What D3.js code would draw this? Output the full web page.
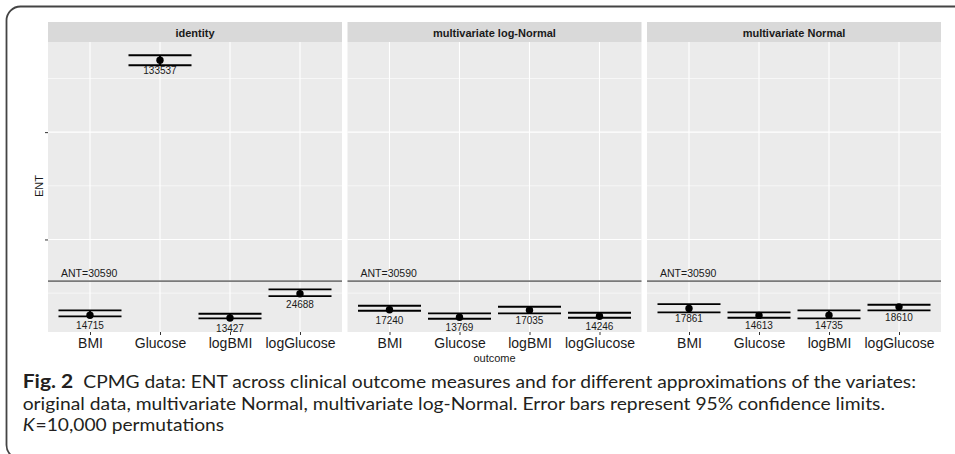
<!DOCTYPE html>
<html>
<head>
<meta charset="utf-8">
<script src="https://cdn.jsdelivr.net/npm/d3@7"></script>
<style>
  body { margin: 0; background: #fff; }
  svg { display: block; }
</style>
</head>
<body>
<div id="chart"></div>
<script>
// facet / category names
const panels = ["identity", "multivariate log-Normal", "multivariate Normal"];
const outcomes = ["BMI", "Glucose", "logBMI", "logGlucose"];

// ENT estimates per facet, same order as outcomes
const entIdentity = [14715, 133537, 13427, 24688];
const entLogNormal = [17240, 13769, 17035, 14246];
const entNormal = [17861, 14613, 14735, 18610];

// 95% limits
const lowIdentity = [14148, 131195, 13217, 23604];
const highIdentity = [16943, 135853, 15360, 26724];
const lowLogNormal = [16757, 13030, 15546, 13496];
const highLogNormal = [19086, 15546, 18620, 15825];
const lowNormal = [16012, 13496, 13217, 16943];
const highNormal = [19877, 16012, 16943, 19551];

const antValue = 30590;
const majorBreaks = [50000, 100000];
const minorBreaks = [25000, 75000, 125000];

const captionLines = [
  "CPMG data: ENT across clinical outcome measures and for different approximations of the variates:",
  "original data, multivariate Normal, multivariate log-Normal. Error bars represent 95% confidence limits.",
  "=10,000 permutations"
];

const ents = [entIdentity, entLogNormal, entNormal];
const lows = [lowIdentity, lowLogNormal, lowNormal];
const highs = [highIdentity, highLogNormal, highNormal];

const width = 955, height = 454;
const panelW = 294, panelGap = 5.5, left = 48;
const stripTop = 22, stripH = 20;
const panelTop = 42, panelBottom = 332;

const svg = d3.select("#chart").append("svg")
  .attr("width", width)
  .attr("height", height);

// outer frame of the figure box
svg.append("rect")
  .attr("x", 6.5).attr("y", 6.5)
  .attr("width", 1200).attr("height", 452.5)
  .attr("rx", 14)
  .attr("fill", "none")
  .attr("stroke", "#444")
  .attr("stroke-width", 1.8);

// shared y scale (fixed scales), 5% expansion like ggplot
const allLow = d3.min(lows.flat());
const allHigh = d3.max(highs.flat());
const pad = (allHigh - allLow) * 0.05;
const y = d3.scaleLinear()
  .domain([allLow - pad, allHigh + pad])
  .range([panelBottom, panelTop]);

const x = d3.scalePoint()
  .domain(outcomes)
  .range([0, panelW])
  .padding(0.6);
const barW = x.step() * 0.9;

panels.forEach((name, p) => {
  const g = svg.append("g")
    .attr("transform", `translate(${left + p * (panelW + panelGap)},0)`);

  // panel background
  g.append("rect")
    .attr("x", 0).attr("y", panelTop)
    .attr("width", panelW).attr("height", panelBottom - panelTop)
    .attr("fill", "#ebebeb");

  // grid
  g.selectAll(".minor").data(minorBreaks).join("line")
    .attr("x1", 0).attr("x2", panelW)
    .attr("y1", d => y(d)).attr("y2", d => y(d))
    .attr("stroke", "#fff").attr("stroke-width", 0.6);
  g.selectAll(".major").data(majorBreaks).join("line")
    .attr("x1", 0).attr("x2", panelW)
    .attr("y1", d => y(d)).attr("y2", d => y(d))
    .attr("stroke", "#fff").attr("stroke-width", 1.1);
  g.selectAll(".vgrid").data(outcomes).join("line")
    .attr("x1", d => x(d)).attr("x2", d => x(d))
    .attr("y1", panelTop).attr("y2", panelBottom)
    .attr("stroke", "#fff").attr("stroke-width", 1.1);

  // strip
  g.append("rect")
    .attr("x", 0).attr("y", stripTop)
    .attr("width", panelW).attr("height", stripH)
    .attr("fill", "#d9d9d9");
  g.append("text")
    .attr("x", panelW / 2).attr("y", stripTop + 15)
    .attr("text-anchor", "middle")
    .attr("font-family", "Liberation Sans, Arial, sans-serif")
    .attr("font-size", 11)
    .attr("font-weight", "bold")
    .attr("fill", "#1a1a1a")
    .text(name);

  // ANT reference line
  g.append("line")
    .attr("x1", 0).attr("x2", panelW)
    .attr("y1", y(antValue)).attr("y2", y(antValue))
    .attr("stroke", "#7a7a7a").attr("stroke-width", 1.6);
  g.append("text")
    .attr("x", 13).attr("y", y(antValue) - 4)
    .attr("font-family", "Liberation Sans, Arial, sans-serif")
    .attr("font-size", 10.5)
    .attr("fill", "#1a1a1a")
    .text("ANT=" + antValue);

  const rows = outcomes.map((o, i) => ({
    o, v: ents[p][i], lo: lows[p][i], hi: highs[p][i]
  }));

  // error bars
  const eb = g.selectAll(".eb").data(rows).join("g");
  eb.append("line")
    .attr("x1", d => x(d.o)).attr("x2", d => x(d.o))
    .attr("y1", d => y(d.lo)).attr("y2", d => y(d.hi))
    .attr("stroke", "#000").attr("stroke-width", 1.9);
  eb.append("line")
    .attr("x1", d => x(d.o) - barW / 2).attr("x2", d => x(d.o) + barW / 2)
    .attr("y1", d => y(d.lo)).attr("y2", d => y(d.lo))
    .attr("stroke", "#000").attr("stroke-width", 1.9);
  eb.append("line")
    .attr("x1", d => x(d.o) - barW / 2).attr("x2", d => x(d.o) + barW / 2)
    .attr("y1", d => y(d.hi)).attr("y2", d => y(d.hi))
    .attr("stroke", "#000").attr("stroke-width", 1.9);

  // points
  g.selectAll(".pt").data(rows).join("circle")
    .attr("cx", d => x(d.o)).attr("cy", d => y(d.v))
    .attr("r", 3.7).attr("fill", "#000");

  // value labels
  g.selectAll(".lab").data(rows).join("text")
    .attr("x", d => x(d.o)).attr("y", d => y(d.v) + 14)
    .attr("text-anchor", "middle")
    .attr("font-family", "Liberation Sans, Arial, sans-serif")
    .attr("font-size", 10)
    .attr("fill", "#1a1a1a")
    .text(d => d.v);

  // x axis
  const xa = g.append("g")
    .attr("transform", `translate(0,${panelBottom})`)
    .call(d3.axisBottom(x).tickSize(3).tickPadding(3));
  xa.select(".domain").remove();
  xa.selectAll("line").attr("stroke", "#333");
  xa.selectAll("text")
    .attr("font-family", "Liberation Sans, Arial, sans-serif")
    .attr("font-size", 14)
    .attr("fill", "#1a1a1a");

  if (p === 0) {
    const ya = g.append("g")
      .call(d3.axisLeft(y).tickValues(majorBreaks).tickFormat("").tickSize(3));
    ya.select(".domain").remove();
    ya.selectAll("line").attr("stroke", "#333");
  }
});

// axis titles
svg.append("text")
  .attr("transform", "translate(42.5,186) rotate(-90)")
  .attr("text-anchor", "middle")
  .attr("font-family", "Liberation Sans, Arial, sans-serif")
  .attr("font-size", 11)
  .attr("fill", "#1a1a1a")
  .text("ENT");

svg.append("text")
  .attr("x", left + (3 * panelW + 2 * panelGap) / 2).attr("y", 362)
  .attr("text-anchor", "middle")
  .attr("font-family", "Liberation Sans, Arial, sans-serif")
  .attr("font-size", 11)
  .attr("fill", "#1a1a1a")
  .text("outcome");

// caption
const capFont = "Lato, 'Open Sans', sans-serif";
const capSize = 18;
svg.append("text")
  .attr("x", 22.7).attr("y", 388)
  .attr("font-family", capFont).attr("font-size", capSize)
  .attr("font-weight", "bold").attr("fill", "#231f20")
  .attr("textLength", 50.6).attr("lengthAdjust", "spacingAndGlyphs")
  .text("Fig. 2");
const c1 = svg.append("text")
  .attr("x", 83.3).attr("y", 388)
  .attr("font-family", capFont).attr("font-size", capSize)
  .attr("fill", "#231f20")
  .text(captionLines[0]);
const nat1 = c1.node().getComputedTextLength();
c1.attr("textLength", 916 - 83.3).attr("lengthAdjust", "spacingAndGlyphs");
const ratio = (916 - 83.3) / nat1;

svg.append("text")
  .attr("x", 22.7).attr("y", 409.5)
  .attr("font-family", capFont).attr("font-size", capSize)
  .attr("fill", "#231f20")
  .attr("textLength", 885 - 22.7).attr("lengthAdjust", "spacingAndGlyphs")
  .text(captionLines[1]);

const k = svg.append("text")
  .attr("x", 22.7).attr("y", 430.5)
  .attr("font-family", capFont).attr("font-size", capSize)
  .attr("font-style", "italic")
  .attr("fill", "#231f20")
  .text("K");
const kw = k.node().getComputedTextLength() * ratio;
k.attr("textLength", kw).attr("lengthAdjust", "spacingAndGlyphs");
const c3 = svg.append("text")
  .attr("x", 22.7 + kw + 1).attr("y", 430.5)
  .attr("font-family", capFont).attr("font-size", capSize)
  .attr("fill", "#231f20")
  .text(captionLines[2]);
c3.attr("textLength", c3.node().getComputedTextLength() * ratio)
  .attr("lengthAdjust", "spacingAndGlyphs");
</script>
</body>
</html>
